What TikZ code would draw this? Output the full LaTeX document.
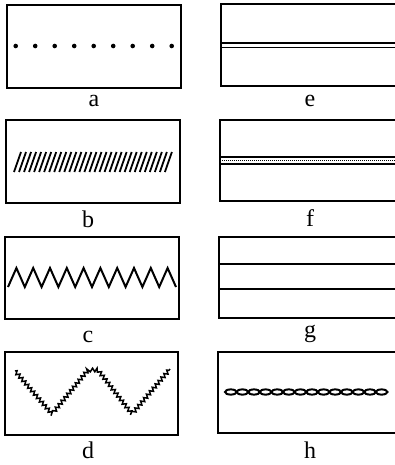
\documentclass[tikz,border=0pt]{standalone}
\usepackage{fontspec}
\setmainfont{Liberation Serif}
\usetikzlibrary{decorations.pathmorphing}

\tikzset{
  panel/.style={draw=black, line width=1.6pt},
  caption/.style={anchor=base, inner sep=0pt, font=\fontsize{24}{28}\selectfont},
  fibre/.style={line width=1.7pt},
}

\begin{document}
\begin{tikzpicture}[x=1pt, y=-1pt]
		\useasboundingbox (0,0) rectangle (394,465);

		% --- Frames (left column) ---
		\draw[panel] (7,5) rectangle (181,88);
		\draw[panel] (6,120) rectangle (180,203);
		\draw[panel] (5,237) rectangle (179,319);
		\draw[panel] (5,352) rectangle (178,435);

		% --- Frames (right column, cut by the page edge) ---
		\draw[panel] (221,4) rectangle (400,86);
		\draw[panel] (220,120) rectangle (400,201);
		\draw[panel] (219,237) rectangle (400,318);
		\draw[panel] (218,352) rectangle (400,433);

		% --- a: row of dots ---
		\foreach \i in {0,...,8}
			\fill ({15.7+19.5*\i},46) circle (2.3);

		% --- b: slanted hatching ---
		\foreach \i in {0,...,30}
			\draw[line width=1.8pt] ({14+5.03*\i},172) -- ({21+5.03*\i},152);

		% --- c: zigzag ---
		\draw[fibre, line width=2pt] (8,287) \foreach \i in {1,...,10} { -- ({8+16.8*\i-8.4},268) -- ({8+16.8*\i},287) };

		% --- d: serrated zigzag ---
		\draw[line width=1.5pt, decorate, decoration={zigzag, segment length=4.5pt, amplitude=1.8pt}]
			(15,371) -- (52,414) -- (88,370) -- (98,370) -- (132,414) -- (170,369);

		% --- e: double line ---
		\draw[fibre] (221,43) -- (400,43);
		\draw[fibre] (221,47.5) -- (400,47.5);

		% --- f: thick, dotted and thin line ---
		\draw[line width=2.6pt] (220,157) -- (400,157);
		\draw[line width=1pt, dash pattern=on 1pt off 1pt] (220,160.3) -- (400,160.3);
		\draw[fibre] (220,164) -- (400,164);

		% --- g: two lines ---
		\draw[fibre] (219,264) -- (400,264);
		\draw[fibre] (219,289) -- (400,289);

		% --- h: chain of links ---
		\foreach \i in {0,...,13}
			\draw[line width=2pt] ({230.8+11.6*\i},392) ellipse (5.8 and 2.6);

		% --- Captions ---
		\node[caption] (capa) at (94,107) {a};
		\node[caption] (capb) at (88,227) {b};
		\node[caption] (capc) at (88,342) {c};
		\node[caption] (capd) at (88,458) {d};
		\node[caption] (cape) at (310,107) {e};
		\node[caption] (capf) at (310,226) {f};
		\node[caption] (capg) at (310,337) {g};
		\node[caption] (caph) at (310,458) {h};
	\end{tikzpicture}
\end{document}
